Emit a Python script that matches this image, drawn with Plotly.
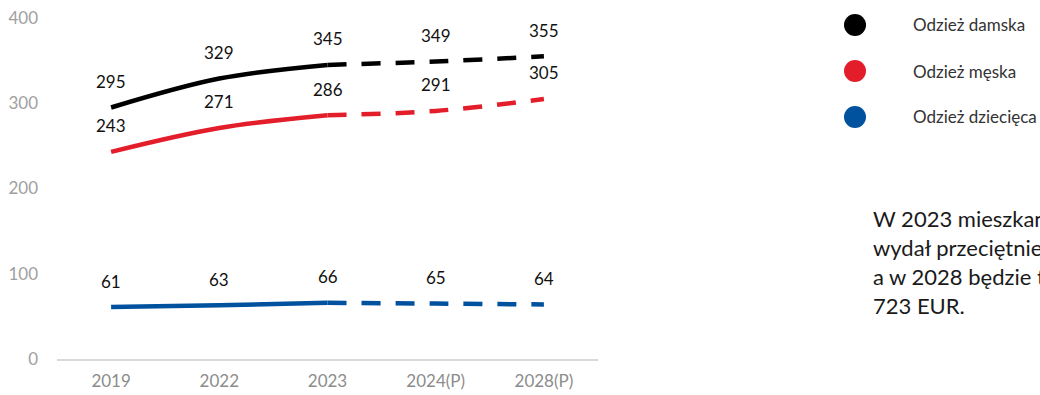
import plotly.graph_objects as go

# Categories and series values (EUR per capita)
years = ["2019", "2022", "2023", "2024(P)", "2028(P)"]
series_names = ["Odzież damska", "Odzież męska", "Odzież dziecięca"]
damska = [295, 329, 345, 349, 355]
meska = [243, 271, 286, 291, 305]
dziecieca = [61, 63, 66, 65, 64]
y_ticks = [0, 100, 200, 300, 400]

series_values = [damska, meska, dziecieca]
colors = ["#000000", "#e31e2a", "#00519e"]

# index of last actual (non-forecast) year
last_actual = 2

FONT = "Lato, 'Open Sans', sans-serif"

W, H = 1040, 395
ML, MR, MT, MB = 57, 442, 18, 36
PW, PH = W - ML - MR, H - MT - MB


def px_x(px):
    return (px - ML) / PW


def px_y(py):
    return 1 - (py - MT) / PH


fig = go.Figure()

for name, vals, col in zip(series_names, series_values, colors):
    # actual values: solid
    fig.add_trace(go.Scatter(
        x=years[:last_actual + 1], y=vals[:last_actual + 1],
        mode="lines", line=dict(color=col, width=4.5, shape="spline", smoothing=1),
        showlegend=False, hoverinfo="skip"))
    # forecast values: dashed
    fig.add_trace(go.Scatter(
        x=years[last_actual:], y=vals[last_actual:],
        mode="lines", line=dict(color=col, width=4.5, shape="spline", smoothing=1,
                                dash="19px,15px"),
        showlegend=False, hoverinfo="skip"))
    # value labels (positioned by category index)
    for i, yv in enumerate(vals):
        fig.add_annotation(x=i, y=yv, text=str(yv), showarrow=False,
                           yshift=26, yanchor="middle",
                           font=dict(family=FONT, size=17, color="#111111"))

# Legend drawn on the right side
legend_y = [25, 71, 117]
for name, col, ly in zip(series_names, colors, legend_y):
    fig.add_shape(type="circle", xref="paper", yref="paper",
                  xsizemode="pixel", ysizemode="pixel",
                  xanchor=px_x(855), yanchor=px_y(ly),
                  x0=-11, x1=11, y0=-11, y1=11,
                  fillcolor=col, line=dict(width=0))
    fig.add_annotation(xref="paper", yref="paper", x=px_x(911), y=px_y(ly),
                       xanchor="left", yanchor="middle", showarrow=False,
                       text=name, font=dict(family=FONT, size=17, color="#333333"))

# Side note, one annotation per line
note_lines = ["W 2023 mieszkaniec Polski",
              "wydał przeciętnie 697 EUR na odzież,",
              "a w 2028 będzie to już",
              "723 EUR."]
for k, line in enumerate(note_lines):
    fig.add_annotation(xref="paper", yref="paper", x=px_x(871),
                       y=px_y(218 + 29 * k), xanchor="left", yanchor="middle",
                       showarrow=False, text=line,
                       font=dict(family=FONT, size=22, color="#1a1a1a"))

fig.update_layout(
    width=W, height=H,
    margin=dict(l=ML, r=MR, t=MT, b=MB),
    paper_bgcolor="white", plot_bgcolor="white",
    showlegend=False,
    font=dict(family=FONT),
)
fig.update_xaxes(
    type="category", categoryorder="array", categoryarray=years,
    range=[-0.5, len(years) - 0.5], automargin=False,
    showgrid=False, showline=True, linecolor="#d9d9d9", linewidth=1.5,
    ticks="", tickfont=dict(family=FONT, size=17, color="#8c8c8c"),
    ticklabelstandoff=6,
)
fig.update_yaxes(
    range=[0, 400], tickvals=y_ticks, showgrid=False, zeroline=False,
    automargin=False,
    showline=False, ticks="", tickfont=dict(family=FONT, size=17, color="#a0a0a0"),
    ticklabelstandoff=18,
)

fig.write_html("out.html")
